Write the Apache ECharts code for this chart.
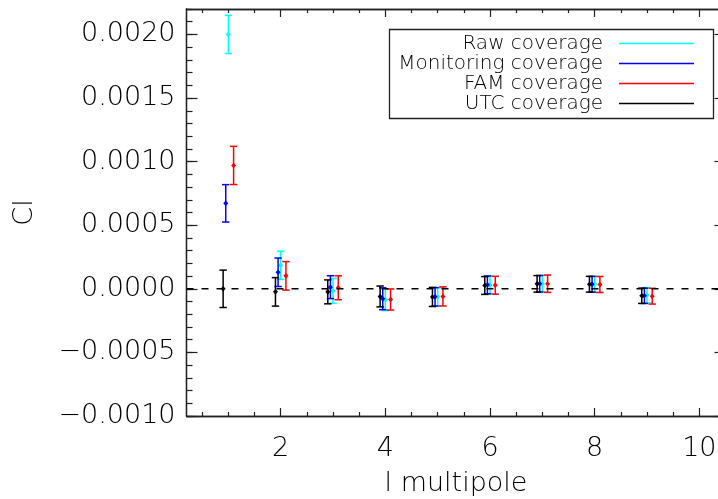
<!DOCTYPE html>
<html>
<head>
<meta charset="utf-8">
<script src="https://cdn.jsdelivr.net/npm/echarts@6/dist/echarts.min.js"></script>
<style>
html, body { margin: 0; padding: 0; background: #fff; }
#chart { width: 718px; height: 499px; }
</style>
</head>
<body>
<div id="chart"></div>
<script>
// multipole l, plotted with a small shift per coverage so the bars don't overlap
var multipoles = [1, 2, 3, 4, 5, 6, 7, 8, 9];

var rawCl = [0.00200, 0.000185, -0.000016, -0.000086, -0.000063, 0.000030, 0.000040, 0.000035, -0.000050];
var rawErr = [0.000150, 0.000111, 0.000097, 0.000085, 0.000072, 0.000070, 0.000065, 0.000062, 0.000060];

var monCl = [0.000672, 0.000130, 0.000013, -0.000078, -0.000063, 0.000031, 0.000040, 0.000036, -0.000055];
var monErr = [0.000147, 0.000112, 0.000090, 0.000086, 0.000072, 0.000070, 0.000065, 0.000062, 0.000060];

var famCl = [0.000970, 0.000102, 0.000008, -0.000084, -0.000060, 0.000028, 0.000040, 0.000034, -0.000058];
var famErr = [0.000150, 0.000112, 0.000094, 0.000083, 0.000075, 0.000070, 0.000068, 0.000063, 0.000062];

var utcCl = [0.0, -0.000024, -0.000024, -0.000060, -0.000064, 0.000026, 0.000039, 0.000036, -0.000055];
var utcErr = [0.000147, 0.000112, 0.000094, 0.000082, 0.000075, 0.000070, 0.000065, 0.000062, 0.000060];

var seriesNames = ['Raw coverage', 'Monitoring coverage', 'FAM coverage', 'UTC coverage'];
var seriesColors = ['#00ffff', '#0000ff', '#ff0000', '#000000'];

var xMin = 0.2, xMax = 10.5;
var yMin = -0.0010, yMax = 0.0022;
var xMajorTicks = [2, 4, 6, 8, 10];
var xMinorTicks = [0.5, 1, 1.5, 2.5, 3, 3.5, 4.5, 5, 5.5, 6.5, 7, 7.5, 8.5, 9, 9.5, 10.5];
var yMajorTicks = [-0.0010, -0.0005, 0.0, 0.0005, 0.0010, 0.0015, 0.0020];

var yMinorTicks = [];
for (var k = -10; k <= 22; k++) {
    yMinorTicks.push(k / 10000);
}

var font = 'DejaVu Sans';
var axisColor = '#222';
var textColor = '#000';

function toPoints(values, errs, shift) {
    return multipoles.map(function (l, i) {
        return [l + shift, values[i], errs[i]];
    });
}

function renderErrorBar(params, api) {
    var x = api.value(0), y = api.value(1), e = api.value(2);
    var top = api.coord([x, y + e]);
    var bot = api.coord([x, y - e]);
    var mid = api.coord([x, y]);
    var color = api.visual('color');
    var cap = 3.7;
    var style = { stroke: color, lineWidth: 1.5, fill: null };
    return {
        type: 'group',
        children: [
            { type: 'line', shape: { x1: top[0], y1: top[1], x2: bot[0], y2: bot[1] }, style: style },
            { type: 'line', shape: { x1: top[0] - cap, y1: top[1], x2: top[0] + cap, y2: top[1] }, style: style },
            { type: 'line', shape: { x1: bot[0] - cap, y1: bot[1], x2: bot[0] + cap, y2: bot[1] }, style: style },
            {
                type: 'polygon',
                shape: { points: [[mid[0], mid[1] - 2.8], [mid[0] + 2.5, mid[1]], [mid[0], mid[1] + 2.8], [mid[0] - 2.5, mid[1]]] },
                style: { fill: color, stroke: null }
            }
        ]
    };
}

function errorSeries(name, color, points) {
    return {
        name: name,
        type: 'custom',
        xAxisIndex: 0,
        yAxisIndex: 0,
        itemStyle: { color: color },
        renderItem: renderErrorBar,
        encode: { x: 0, y: 1 },
        data: points
    };
}

function xAxisOf(position, ticks, len, labels) {
    return {
        type: 'value',
        position: position,
        min: xMin,
        max: xMax,
        axisLine: { show: true, onZero: false, lineStyle: { color: axisColor, width: 1.3 } },
        axisTick: { show: true, inside: true, length: len, customValues: ticks, lineStyle: { color: axisColor, width: 1.2 } },
        axisLabel: labels ? {
            show: true,
            customValues: ticks,
            margin: 19,
            color: textColor,
            fontFamily: font,
            fontSize: 27,
            fontWeight: 200
        } : { show: false },
        splitLine: { show: false }
    };
}

function yAxisOf(position, ticks, len, labels) {
    return {
        type: 'value',
        position: position,
        min: yMin,
        max: yMax,
        axisLine: { show: true, onZero: false, lineStyle: { color: axisColor, width: 1.3 } },
        axisTick: { show: true, inside: true, length: len, customValues: ticks, lineStyle: { color: axisColor, width: 1.2 } },
        axisLabel: labels ? {
            show: true,
            customValues: ticks,
            margin: 11,
            color: textColor,
            fontFamily: font,
            fontSize: 27,
            fontWeight: 200,
            formatter: function (v) {
                return (v < -1e-12 ? '\u2212' : '') + Math.abs(v).toFixed(4);
            }
        } : { show: false },
        splitLine: { show: false }
    };
}

function legendGraphic() {
    var children = [{
        type: 'rect',
        shape: { x: 389.5, y: 29.5, width: 324, height: 89 },
        style: { fill: '#fff', stroke: axisColor, lineWidth: 1.3 }
    }];
    seriesNames.forEach(function (name, i) {
        var y = 43.5 + i * 20;
        children.push({
            type: 'text',
            style: {
                x: 603, y: y, text: name, align: 'right', verticalAlign: 'middle',
                fill: textColor, font: '200 20px "DejaVu Sans"'
            }
        });
        children.push({
            type: 'line',
            shape: { x1: 619, y1: y, x2: 694, y2: y },
            style: { stroke: seriesColors[i], lineWidth: 1.3 }
        });
    });
    return [{ type: 'group', children: children, z: 100 }];
}

var chart = echarts.init(document.getElementById('chart'), null, { renderer: 'canvas' });

var xAxes = [
    xAxisOf('bottom', xMajorTicks, 8, true),
    xAxisOf('bottom', xMinorTicks, 4, false),
    xAxisOf('top', xMajorTicks, 8, false),
    xAxisOf('top', xMinorTicks, 4, false)
];
xAxes[0].name = 'l multipole';
xAxes[0].nameLocation = 'middle';
xAxes[0].nameGap = 54;
xAxes[0].nameTextStyle = { fontFamily: font, fontSize: 27, fontWeight: 200, color: textColor };

var yAxes = [
    yAxisOf('left', yMajorTicks, 11, true),
    yAxisOf('left', yMinorTicks, 6, false),
    yAxisOf('right', yMajorTicks, 11, false),
    yAxisOf('right', yMinorTicks, 6, false)
];
yAxes[0].name = 'Cl';
yAxes[0].nameLocation = 'middle';
yAxes[0].nameRotate = 90;
yAxes[0].nameGap = 148;
yAxes[0].nameTextStyle = { fontFamily: font, fontSize: 27, fontWeight: 200, color: textColor };

var option = {
    animation: false,
    backgroundColor: '#fff',
    grid: { left: 186.5, top: 9, width: 539, height: 407, containLabel: false, outerBoundsMode: 'none' },
    xAxis: xAxes,
    yAxis: yAxes,
    graphic: legendGraphic(),
    series: [
        {
            name: 'zero',
            type: 'line',
            xAxisIndex: 0,
            yAxisIndex: 0,
            showSymbol: false,
            symbol: 'none',
            silent: true,
            lineStyle: { color: '#000', width: 1.4, type: [7, 8] },
            data: [[xMin, 0], [xMax, 0]]
        },
        errorSeries(seriesNames[0], seriesColors[0], toPoints(rawCl, rawErr, 0)),
        errorSeries(seriesNames[1], seriesColors[1], toPoints(monCl, monErr, -0.05)),
        errorSeries(seriesNames[2], seriesColors[2], toPoints(famCl, famErr, 0.1)),
        errorSeries(seriesNames[3], seriesColors[3], toPoints(utcCl, utcErr, -0.1))
    ]
};

chart.setOption(option);
</script>
</body>
</html>
